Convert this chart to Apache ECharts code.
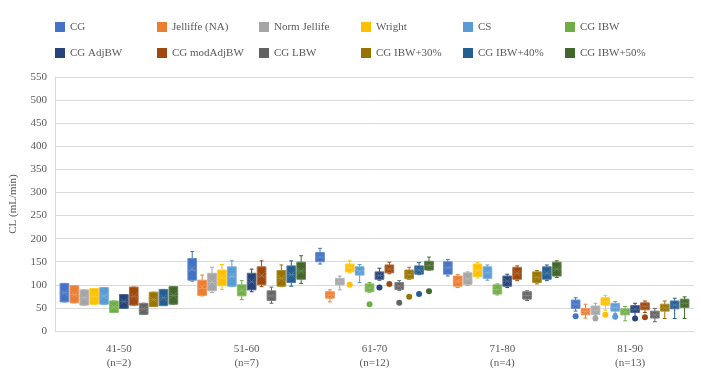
<!DOCTYPE html>
<html>
<head>
<meta charset="utf-8">
<script src="https://cdn.jsdelivr.net/npm/echarts@6/dist/echarts.min.js"></script>
<style>
  html, body { margin: 0; padding: 0; background: #fff; }
  #chart { width: 701px; height: 374px; }
</style>
</head>
<body>
<div id="chart"></div>
<script>
// age groups and patient counts
const ageGroups = ['41-50', '51-60', '61-70', '71-80', '81-90'];
const groupN = [2, 7, 12, 4, 13];

// per group: [min, q1, median, q3, max, mean, outlier]
const cg =         [[63, 63, 83, 103, 103, 83, null], [108, 110, 132, 157, 172, 135, null], [145, 150, 160, 170, 179, 161, null], [119, 123, 137, 150, 155, 137, null], [43, 49, 58, 67, 72, 58, 32]];
const jelliffe =   [[61, 61, 79, 98, 98, 79, null], [76, 77, 92, 110, 121, 95, null], [63, 71, 78, 85, 89, 78, null], [94, 97, 108, 119, 122, 108, null], [28, 35, 42, 49, 58, 42, null]];
const normJel =    [[56, 56, 72, 89, 89, 72, null], [83, 87, 105, 125, 138, 106, null], [89, 100, 107, 114, 119, 107, null], [99, 101, 113, 126, 128, 113, null], [33, 36, 45, 54, 60, 45, 27]];
const wright =     [[58, 58, 75, 92, 92, 75, null], [90, 98, 115, 132, 144, 116, null], [126, 128, 137, 145, 152, 137, 100], [115, 118, 131, 145, 148, 131, null], [45, 56, 64, 72, 77, 64, 35]];
const cs =         [[58, 58, 76, 94, 94, 76, null], [96, 97, 118, 139, 152, 119, null], [105, 121, 130, 139, 144, 128, null], [110, 114, 126, 139, 143, 126, null], [38, 43, 51, 60, 64, 51, 31]];
const cgIbw =      [[40, 40, 52, 65, 65, 52, null], [68, 76, 87, 100, 109, 88, null], [84, 85, 93, 102, 105, 93, 58], [78, 80, 90, 100, 102, 90, null], [22, 35, 41, 48, 53, 41, null]];
const cgAdj =      [[49, 49, 64, 79, 79, 64, null], [85, 89, 106, 125, 134, 107, null], [110, 112, 120, 128, 136, 120, 94], [94, 97, 108, 119, 123, 108, null], [30, 40, 47, 55, 60, 47, 27]];
const cgModAdj =   [[56, 56, 75, 95, 95, 75, null], [96, 100, 119, 139, 152, 120, null], [124, 126, 134, 143, 149, 134, 102], [109, 112, 125, 138, 141, 125, null], [40, 46, 53, 61, 65, 53, 30]];
const cgLbw =      [[36, 36, 48, 60, 60, 48, null], [60, 66, 76, 87, 95, 76, null], [88, 90, 97, 105, 109, 97, 61], [66, 69, 77, 85, 87, 77, null], [20, 28, 35, 43, 49, 35, null]];
const cgIbw30 =    [[53, 53, 68, 84, 84, 68, null], [96, 97, 114, 131, 143, 114, null], [112, 113, 122, 132, 138, 122, 74], [102, 105, 116, 128, 131, 116, null], [27, 43, 50, 58, 65, 50, null]];
const cgIbw40 =    [[55, 55, 72, 90, 90, 72, null], [97, 105, 122, 141, 152, 122, null], [122, 123, 132, 141, 148, 132, 80], [109, 112, 125, 139, 143, 125, null], [27, 48, 56, 65, 71, 56, null]];
const cgIbw50 =    [[58, 58, 77, 96, 96, 77, null], [103, 112, 130, 149, 163, 130, null], [132, 132, 142, 151, 160, 142, 86], [116, 119, 134, 149, 152, 134, null], [27, 51, 60, 69, 74, 60, null]];

const seriesNames = ['CG', 'Jelliffe (NA)', 'Norm Jellife', 'Wright', 'CS', 'CG IBW',
  'CG AdjBW', 'CG modAdjBW', 'CG LBW', 'CG IBW+30%', 'CG IBW+40%', 'CG IBW+50%'];
const seriesData = [cg, jelliffe, normJel, wright, cs, cgIbw, cgAdj, cgModAdj, cgLbw, cgIbw30, cgIbw40, cgIbw50];
const colors = ['#4472C4', '#ED7D31', '#A5A5A5', '#FFC000', '#5B9BD5', '#70AD47',
  '#264478', '#9E480E', '#636363', '#997300', '#255E91', '#43682B'];

const FONT = '"Liberation Serif", "DejaVu Serif", serif';
const TEXT = '#595959';

function renderBox(params, api) {
  const cat = api.value(0);
  const band = api.size([1, 0])[0];
  const step = band * 0.0775;
  const bw = band * 0.068;
  const color = colors[params.seriesIndex];
  const dark = echarts.color.lift(color, 0.2);
  const x = api.coord([cat, 0])[0] + (params.seriesIndex - 5.5) * step;
  const y = (v) => api.coord([cat, v])[1];
  const yMin = y(api.value(1)), yQ1 = y(api.value(2)), yMed = y(api.value(3));
  const yQ3 = y(api.value(4)), yMax = y(api.value(5)), yMean = y(api.value(6));
  const out = api.value(7);
  const cap = bw * 0.22;
  const line = { stroke: color, lineWidth: 1 };
  const children = [
    { type: 'line', shape: { x1: x, y1: yMax, x2: x, y2: yQ3 }, style: line },
    { type: 'line', shape: { x1: x, y1: yQ1, x2: x, y2: yMin }, style: line },
    { type: 'line', shape: { x1: x - cap, y1: yMax, x2: x + cap, y2: yMax }, style: line },
    { type: 'line', shape: { x1: x - cap, y1: yMin, x2: x + cap, y2: yMin }, style: line },
    { type: 'rect', shape: { x: x - bw / 2, y: yQ3, width: bw, height: yQ1 - yQ3 },
      style: { fill: color, stroke: dark, lineWidth: 1 } },
    { type: 'line', shape: { x1: x - bw / 2, y1: yMed, x2: x + bw / 2, y2: yMed },
      style: { stroke: dark, lineWidth: 1 } },
    { type: 'line', shape: { x1: x - bw * 0.35, y1: yMean - bw * 0.35, x2: x + bw * 0.35, y2: yMean + bw * 0.35 },
      style: { stroke: dark, lineWidth: 1 } },
    { type: 'line', shape: { x1: x - bw * 0.35, y1: yMean + bw * 0.35, x2: x + bw * 0.35, y2: yMean - bw * 0.35 },
      style: { stroke: dark, lineWidth: 1 } }
  ];
  if (isFinite(out)) {
    children.push({ type: 'circle', shape: { cx: x, cy: y(out), r: 3 }, style: { fill: color } });
  }
  return { type: 'group', children: children };
}

const chart = echarts.init(document.getElementById('chart'));

const option = {
  animation: false,
  color: colors,
  grid: { left: 54, right: 7, top: 77, bottom: 43 },
  legend: {
    data: seriesNames,
    left: 50,
    top: 15,
    width: 630,
    icon: 'rect',
    itemWidth: 10,
    itemHeight: 10,
    itemGap: 12,
    textStyle: { fontFamily: FONT, fontSize: 11, color: TEXT, width: 75, lineHeight: 14 }
  },
  xAxis: {
    type: 'category',
    data: ageGroups.map((g, i) => g + '\n(n=' + groupN[i] + ')'),
    axisTick: { show: false },
    axisLine: { lineStyle: { color: '#D9D9D9' } },
    axisLabel: { fontFamily: FONT, fontSize: 11, color: TEXT, lineHeight: 14, margin: 11 }
  },
  yAxis: {
    type: 'value',
    min: 0,
    max: 550,
    interval: 50,
    name: 'CL (mL/min)',
    nameLocation: 'middle',
    nameGap: 36,
    nameTextStyle: { fontFamily: FONT, fontSize: 11, color: TEXT },
    axisLine: { show: true, lineStyle: { color: '#D9D9D9' } },
    axisLabel: { fontFamily: FONT, fontSize: 11, color: TEXT, margin: 8 },
    splitLine: { lineStyle: { color: '#D9D9D9' } }
  },
  series: seriesNames.map((name, s) => ({
    name: name,
    type: 'custom',
    renderItem: renderBox,
    itemStyle: { color: colors[s] },
    encode: { x: 0, y: [1, 2, 3, 4, 5] },
    data: seriesData[s].map((row, i) => [i].concat(row))
  }))
};

chart.setOption(option);
</script>
</body>
</html>
